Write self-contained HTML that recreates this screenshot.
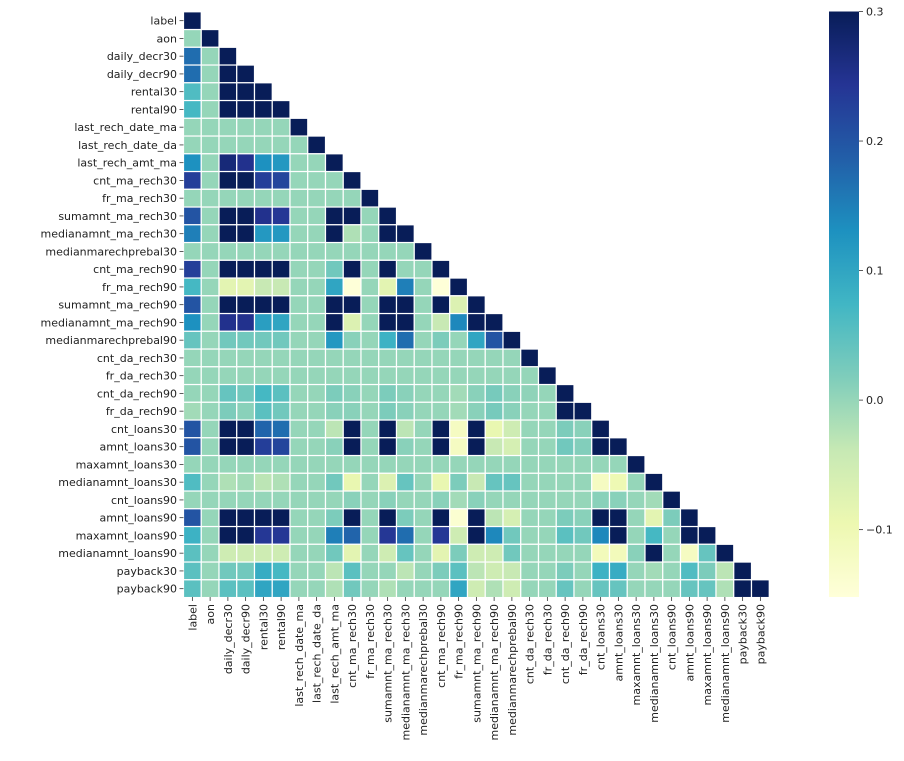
<!DOCTYPE html>
<html><head><meta charset="utf-8"><style>
html,body{margin:0;padding:0;background:#fff;}
svg{display:block;font-family:"DejaVu Sans","Liberation Sans",sans-serif;}
</style></head><body>
<svg id="chart" width="904" height="761" viewBox="0 0 904 761" xmlns="http://www.w3.org/2000/svg"></svg>
<script>
const categories = ["label","aon","daily_decr30","daily_decr90","rental30","rental90","last_rech_date_ma","last_rech_date_da","last_rech_amt_ma","cnt_ma_rech30","fr_ma_rech30","sumamnt_ma_rech30","medianamnt_ma_rech30","medianmarechprebal30","cnt_ma_rech90","fr_ma_rech90","sumamnt_ma_rech90","medianamnt_ma_rech90","medianmarechprebal90","cnt_da_rech30","fr_da_rech30","cnt_da_rech90","fr_da_rech90","cnt_loans30","amnt_loans30","maxamnt_loans30","medianamnt_loans30","cnt_loans90","amnt_loans90","maxamnt_loans90","medianamnt_loans90","payback30","payback90"];
const D = 1;
const corrRows = [
[1],
[0,1],
[0.17,0,1],
[0.17,0,1,1],
[0.06,0,1,1,1],
[0.07,0,1,1,1,1],
[0,0,0,0,0,0,1],
[0,0,0,0,0,0,0,1],
[0.13,0,0.27,0.25,0.13,0.12,0,0,1],
[0.23,0,0.8,0.75,0.23,0.22,0,0,0,1],
[0,0,0,0,0,0,0,0,0,0,1],
[0.2,0,0.6,0.6,0.25,0.24,0,0,0.6,0.6,0,1],
[0.15,0,0.5,0.3,0.12,0.12,0,0,0.6,-0.02,0,0.5,1],
[0,0,0,0,0,0,0,0,0,0,0,0,0,1],
[0.23,0,0.5,0.5,0.4,0.4,0,0,0.03,0.8,0,0.7,0,0,1],
[0.07,0,-0.08,-0.08,-0.04,-0.04,0,0,0.1,-0.15,0,-0.08,0.15,0,-0.15,1],
[0.2,0,0.6,0.6,0.5,0.5,0,0,0.6,0.6,0,0.6,0.6,0,0.6,-0.07,1],
[0.13,0,0.25,0.25,0.11,0.1,0,0,D,-0.07,0,D,D,0,-0.04,0.14,D,1],
[0.04,0,0.03,0.03,0.03,0.03,0,0,0.12,0.01,0,0.08,0.17,0,0.02,0,0.1,0.2,1],
[0,0,0,0,0,0,0,0,0,0,0,0,0,0,0,0,0,0,0,1],
[0,0,0,0,0,0,0,0,0,0,0,0,0,0,0,0,0,0,0,0,1],
[0,0,0.04,0.03,0.07,0.05,0,0,0.02,0.01,0,0.02,0.01,0,0,-0.01,0.01,0.025,0.01,0.005,0,1],
[-0.01,0,0.02,0.01,0.05,0.03,0,0,0.01,0.01,0,0.02,0.01,0,0,-0.01,0.01,0.025,0.01,0,0,1,1],
[0.2,0,D,D,0.18,0.17,0,0,-0.03,D,0,D,-0.03,0,D,-0.12,D,-0.09,-0.05,0,0,0.02,0.01,1],
[0.2,0,D,D,0.23,0.22,0,0,0.01,D,0,D,0.01,0,D,-0.12,D,-0.04,-0.06,0,0,0.03,0.015,D,1],
[0,0,0,0,0,0,0,0,0,0,0,0,0,0,0,0,0,0,0,0,0,0,0,0,0,1],
[0.06,0,-0.02,-0.01,-0.03,-0.02,0,0,0.03,-0.09,0,-0.07,0.04,0,-0.09,0.02,-0.04,0.04,0.04,0,0,0,0,-0.12,-0.1,0,1],
[0,0,0,0,0,0,0,0,0,0.01,0,0.01,0,0,0.01,-0.01,0.01,0,0,0,0,0,0,0.01,0.01,0,-0.01,1],
[0.2,0,D,D,D,D,0,0,0.02,D,0,D,0.02,0,D,-0.14,D,-0.03,-0.06,0,0,0.02,0.01,D,D,0,-0.08,0.02,1],
[0.08,0,D,D,0.24,0.24,0,0,0.15,0.18,0,0.24,0.17,0,0.24,-0.05,D,0.14,0.03,0,0,0.05,0.03,0.14,D,0,0.07,0,D,1],
[0.05,0,-0.05,-0.05,-0.05,-0.05,0,0,0.03,-0.08,0,-0.05,0.04,0,-0.08,0.02,-0.05,-0.05,0.03,0,0,0,0,-0.11,-0.11,0.01,D,0,-0.12,0.04,1],
[0.05,0,0.03,0.03,0.09,0.07,0,0,-0.03,0.05,0,0,-0.03,0,0.02,0.05,-0.03,-0.05,-0.04,0,0,0.02,0,0.08,0.09,0,-0.01,0,0.06,0.02,-0.03,1],
[0.05,0,0.05,0.05,0.1,0.1,0,0,-0.02,0.03,0,-0.02,0,0,0,0.1,-0.05,-0.02,-0.05,0,0,0.04,0,0.04,0.04,0,0,0,0.04,0.04,-0.02,1,1]
];
const colorbarTicks = [0.3,0.2,0.1,0.0,-0.1];
const colorbarTickLabels = ["0.3","0.2","0.1","0.0","\u22120.1"];
const vmin = -0.152, vmax = 0.3;

const NS = "http://www.w3.org/2000/svg";
const svg = document.getElementById('chart');
const x0 = 183.5, y0 = 11.8, cell = 17.75;
const xPos = i => x0 + i*cell;
const yPos = i => y0 + i*cell;
const stops = ["#ffffd9","#edf8b1","#c7e9b4","#7fcdbb","#41b6c4","#1d91c0","#225ea8","#253494","#081d58"];
function hex(c){return [1,3,5].map(k=>parseInt(c.substr(k,2),16));}
function color(v){
  let t=(v-vmin)/(vmax-vmin); t=Math.max(0,Math.min(1,t));
  const p=t*(stops.length-1), i=Math.min(stops.length-2,Math.floor(p)), f=p-i;
  const a=hex(stops[i]), b=hex(stops[i+1]);
  return "rgb("+a.map((x,k)=>Math.round(x+(b[k]-x)*f)).join(",")+")";
}
function mk(tag, attrs){const e=document.createElementNS(NS,tag);for(const k in attrs)e.setAttribute(k,attrs[k]);svg.appendChild(e);return e;}

corrRows.forEach((row,r)=>{
  row.forEach((v,c)=>{
    const rc = mk('rect',{x:xPos(c),y:yPos(r),width:cell,height:cell,fill:color(v),stroke:'#fff','stroke-width':1.2});
    
    
  });
});
categories.forEach((name,i)=>{
  const cy = yPos(i)+cell/2;
  mk('line',{x1:179.5,x2:183.5,y1:cy,y2:cy,stroke:'#333','stroke-width':0.8});
  const t = mk('text',{x:177,y:cy+4,'text-anchor':'end','font-size':11,fill:'#222'});
  t.textContent=name;
  
  
  const cx = xPos(i)+cell/2;
  mk('line',{x1:cx,x2:cx,y1:597,y2:601,stroke:'#333','stroke-width':0.8});
  const tx = mk('text',{x:0,y:0,'text-anchor':'end','font-size':11,fill:'#222',transform:'translate('+(cx+4)+',604) rotate(-90)'});
  tx.textContent=name;
  
  
});
// colorbar
const cbX=829, cbW=30, cbTop=11.5, cbBot=597;
const cbY = v => cbTop + (vmax-v)/(vmax-vmin)*(cbBot-cbTop);
const defs = mk('defs',{});
const grad = document.createElementNS(NS,'linearGradient');
grad.setAttribute('id','cbg');grad.setAttribute('x1','0');grad.setAttribute('y1','1');grad.setAttribute('x2','0');grad.setAttribute('y2','0');
stops.forEach((s,i)=>{const st=document.createElementNS(NS,'stop');st.setAttribute('offset',i/(stops.length-1));st.setAttribute('stop-color',s);grad.appendChild(st);});
defs.appendChild(grad);
const cb = mk('rect',{x:cbX,y:cbTop,width:cbW,height:cbBot-cbTop,fill:'url(#cbg)'});


colorbarTicks.forEach((v,i)=>{
  const y=cbY(v);
  mk('line',{x1:cbX+cbW,x2:cbX+cbW+4,y1:y,y2:y,stroke:'#333','stroke-width':0.8});
  const t=mk('text',{x:cbX+cbW+7,y:y+4,'font-size':11,fill:'#222'});
  t.textContent=colorbarTickLabels[i];
  
  
});
</script>
</body></html>
